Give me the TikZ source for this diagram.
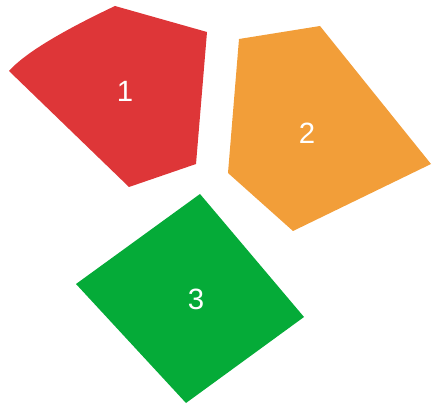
\documentclass[tikz,border=0pt]{standalone}
\usepackage{fontspec}
\setmainfont{Liberation Sans}
\usepackage{xcolor}
\usepackage{tikz}
\definecolor{clrR}{RGB}{222,54,56}
\definecolor{clrO}{RGB}{242,158,57}
\definecolor{clrG}{RGB}{5,171,56}
\tikzset{
  piece/.style={draw=none},
  tag/.style={text=white,font=\fontsize{22}{26}\selectfont,inner sep=0pt}
}
\begin{document}
\begin{tikzpicture}[x=0.75pt,y=-0.75pt]
  \useasboundingbox (0,0) rectangle (440,410);
  % red piece
  \fill[piece,clrR] (9,71) .. controls (24,54) and (60,32) .. (115,6)
    -- (207,32) -- (196,164) -- (129,187) -- cycle;
  % orange piece
  \fill[piece,clrO] (239,39) -- (320,26) -- (431,164) -- (293,231)
    -- (228,173) -- cycle;
  % green piece
  \fill[piece,clrG] (200,194) -- (304,317) -- (186,403) -- (76,284) -- cycle;
  \node[tag] (t1) at (125,91) {1};
  \node[tag] (t2) at (307,133) {2};
  \node[tag] (t3) at (196,299) {3};
\end{tikzpicture}
\end{document}
